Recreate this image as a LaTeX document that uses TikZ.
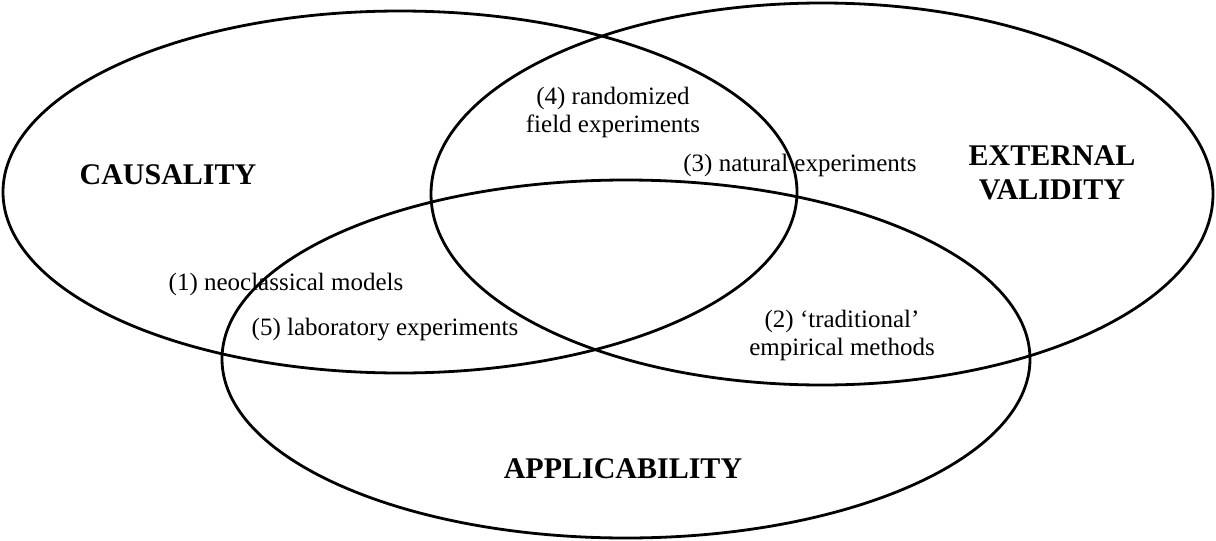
\documentclass[tikz,border=0pt]{standalone}
\usepackage{fontspec}
\setmainfont{Liberation Serif}
\usepackage{tikz}

\begin{document}
\begin{tikzpicture}
            [x=1pt, y=-1pt, line width=2.8pt,
             field/.style={font=\fontsize{30}{34}\selectfont\bfseries, align=center},
             method/.style={font=\fontsize{25}{28}\selectfont, align=center}]
            \useasboundingbox (0, 0) rectangle (1216, 541);

            \coordinate (causc) at (400, 192);
            \coordinate (extc) at (822, 194);
            \coordinate (applc) at (626, 359);

            \draw (causc) ellipse [x radius=397pt, y radius=181pt];
            \draw (extc) ellipse [x radius=391pt, y radius=191pt];
            \draw (applc) ellipse [x radius=404pt, y radius=179pt];

            \node[field] (caus) at (168, 175) {CAUSALITY};
            \node[field] (ext) at (1052, 173) {EXTERNAL\\VALIDITY};
            \node[field] (appl) at (623, 469) {APPLICABILITY};

            \node[method] (m4) at (613, 112) {(4) randomized\\field experiments};
            \node[method] (m3) at (800, 165) {(3) natural experiments};
            \node[method] (m1) at (286, 284) {(1) neoclassical models};
            \node[method] (m5) at (385, 330) {(5) laboratory experiments};
            \node[method] (m2) at (842, 335) {(2) `traditional'\\empirical methods};
        \end{tikzpicture}
\end{document}
